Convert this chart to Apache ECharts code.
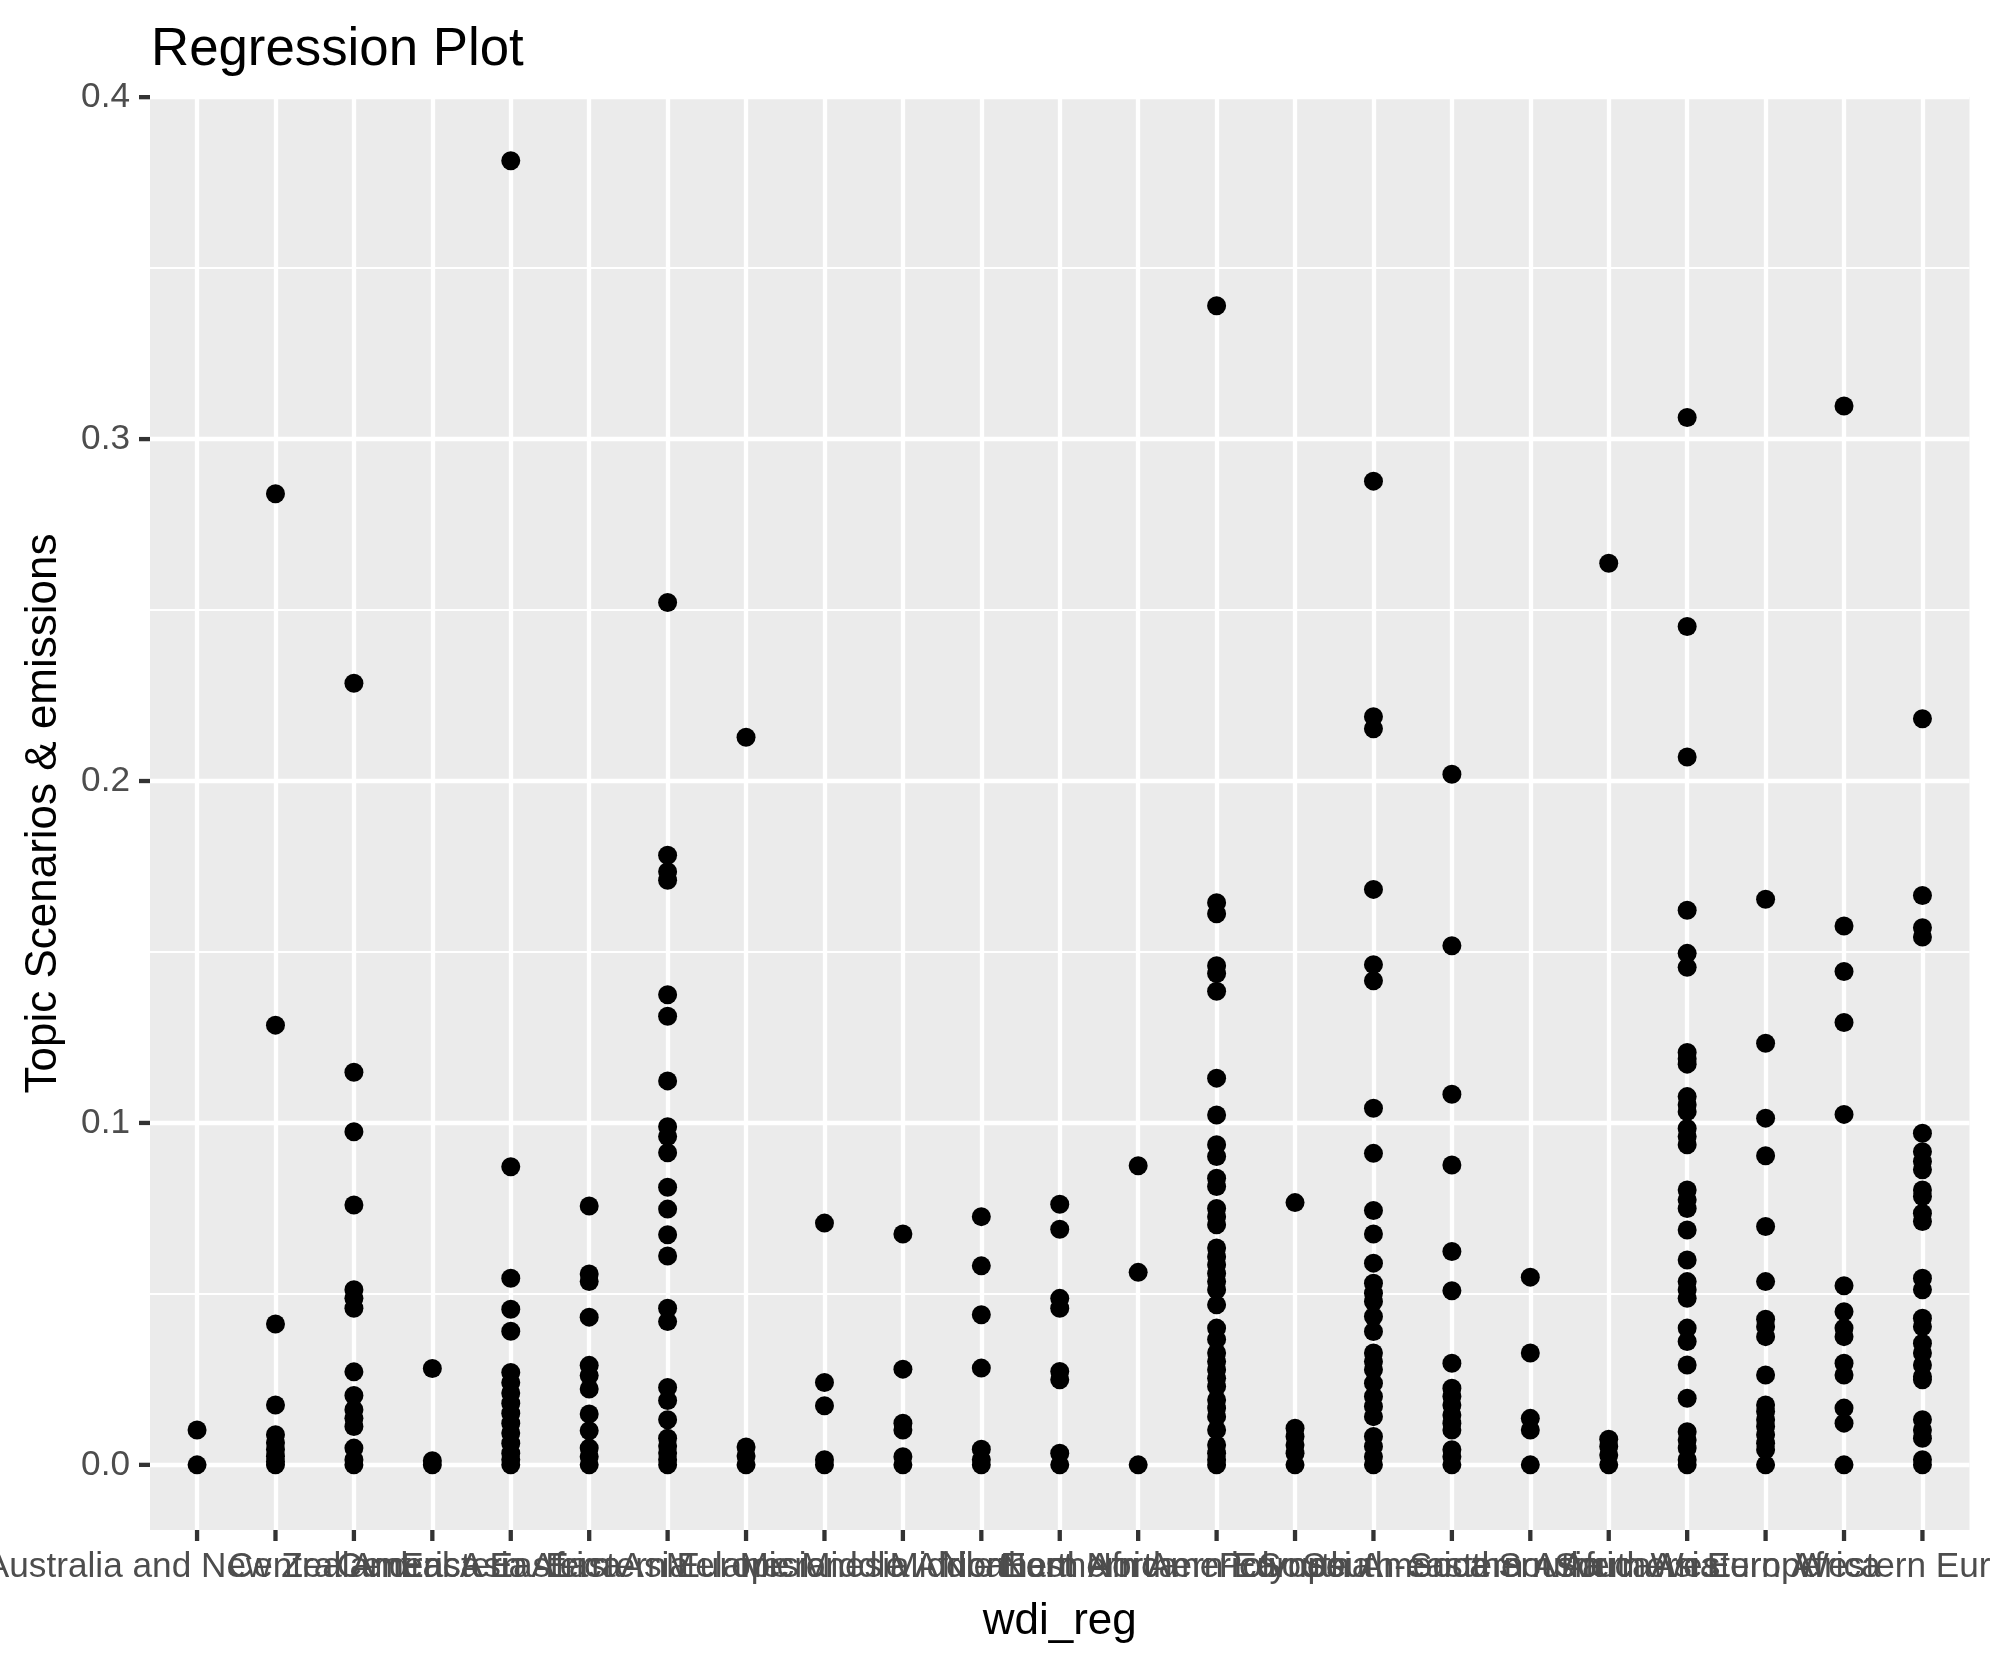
<!DOCTYPE html>
<html><head><meta charset="utf-8">
<script src="https://cdn.jsdelivr.net/npm/echarts@6/dist/echarts.min.js"></script>
<style>html,body{margin:0;padding:0;background:#fff}#c{width:1990px;height:1665px}</style>
</head><body><div id="c"></div>
<script>
const categories = [
  'Australia and New Zealand', 'Caribbean', 'Central America', 'Central Asia',
  'Eastern Africa', 'Eastern Asia', 'Eastern Europe', 'Melanesia', 'Micronesia',
  'Middle Africa', 'Middle East', 'Northern Africa', 'Northern America', 'Northern Europe',
  'Polynesia', 'South America', 'South-eastern Asia', 'Southern Africa', 'Southern Asia',
  'Southern Europe', 'Western Africa', 'Western Asia', 'Western Europe'
];
const valsAustraliaNZ = [0.0102, 0];
const valsCaribbean = [0.2840, 0.1286, 0.0412, 0.0175, 0.0088, 0.0065, 0.0045, 0.0025, 0.0010, 0];
const valsCentralAmerica = [0.2286, 0.1148, 0.0974, 0.0760, 0.0512, 0.0487, 0.0458, 0.0272, 0.0203, 0.0161, 0.0136, 0.0112, 0.0049, 0.0015, 0];
const valsCentralAsia = [0.0282, 0.0012, 0];
const valsEasternAfrica = [0.3814, 0.0872, 0.0546, 0.0455, 0.0391, 0.0270, 0.0240, 0.0210, 0.0180, 0.0151, 0.0122, 0.0093, 0.0063, 0.0034, 0.0015, 0];
const valsEasternAsia = [0.0757, 0.0558, 0.0536, 0.0432, 0.0291, 0.0261, 0.0222, 0.0149, 0.0100, 0.0049, 0.0024, 0];
const valsEasternEurope = [0.2522, 0.1783, 0.1735, 0.1710, 0.1375, 0.1312, 0.1123, 0.0989, 0.0960, 0.0913, 0.0812, 0.0748, 0.0673, 0.0611, 0.0458, 0.0419, 0.0226, 0.0188, 0.0132, 0.0078, 0.0055, 0.0035, 0.0015, 0];
const valsMelanesia = [0.2128, 0.0052, 0.0026, 0];
const valsMicronesia = [0.0707, 0.0241, 0.0173, 0.0015, 0];
const valsMiddleAfrica = [0.0675, 0.0280, 0.0122, 0.0102, 0.0024, 0];
const valsMiddleEast = [0.0726, 0.0582, 0.0439, 0.0283, 0.0046, 0.0015, 0];
const valsNorthernAfrica = [0.0762, 0.0689, 0.0487, 0.0458, 0.0273, 0.0249, 0.0034, 0];
const valsNorthernAmerica = [0.0875, 0.0563, 0];
const valsNorthernEurope = [0.3390, 0.1644, 0.1612, 0.1460, 0.1437, 0.1385, 0.1131, 0.1023, 0.0936, 0.0902, 0.0838, 0.0814, 0.0750, 0.0726, 0.0702, 0.0634, 0.0609, 0.0585, 0.0560, 0.0536, 0.0512, 0.0468, 0.0400, 0.0367, 0.0327, 0.0302, 0.0278, 0.0253, 0.0229, 0.0190, 0.0166, 0.0141, 0.0102, 0.0058, 0.0034, 0.0015, 0];
const valsPolynesia = [0.0767, 0.0107, 0.0083, 0.0058, 0.0034, 0];
const valsSouthAmerica = [0.2877, 0.2188, 0.2153, 0.1683, 0.1463, 0.1416, 0.1043, 0.0911, 0.0744, 0.0675, 0.0590, 0.0531, 0.0502, 0.0478, 0.0434, 0.0390, 0.0327, 0.0302, 0.0278, 0.0239, 0.0200, 0.0171, 0.0141, 0.0083, 0.0054, 0.0024, 0];
const valsSouthEasternAsia = [0.2020, 0.1518, 0.1084, 0.0877, 0.0624, 0.0509, 0.0297, 0.0224, 0.0200, 0.0175, 0.0146, 0.0122, 0.0102, 0.0044, 0.0024, 0];
const valsSouthernAfrica = [0.0549, 0.0327, 0.0136, 0.0102, 0];
const valsSouthernAsia = [0.2637, 0.0075, 0.0054, 0.0029, 0];
const valsSouthernEurope = [0.3063, 0.2452, 0.2070, 0.1622, 0.1496, 0.1455, 0.1206, 0.1188, 0.1172, 0.1077, 0.1053, 0.1033, 0.0984, 0.0960, 0.0936, 0.0804, 0.0775, 0.0750, 0.0687, 0.0599, 0.0536, 0.0512, 0.0487, 0.0400, 0.0361, 0.0292, 0.0195, 0.0097, 0.0073, 0.0049, 0.0015, 0];
const valsWesternAfrica = [0.1654, 0.1233, 0.1014, 0.0904, 0.0697, 0.0536, 0.0426, 0.0404, 0.0375, 0.0263, 0.0175, 0.0156, 0.0132, 0.0112, 0.0088, 0.0063, 0.0044, 0];
const valsWesternAsia = [0.3097, 0.1576, 0.1443, 0.1294, 0.1025, 0.0524, 0.0448, 0.0400, 0.0375, 0.0297, 0.0263, 0.0166, 0.0122, 0];
const valsWesternEurope = [0.2182, 0.1665, 0.1571, 0.1544, 0.0970, 0.0916, 0.0887, 0.0863, 0.0804, 0.0785, 0.0736, 0.0712, 0.0546, 0.0512, 0.0429, 0.0404, 0.0356, 0.0327, 0.0292, 0.0258, 0.0249, 0.0132, 0.0102, 0.0078, 0.0015, 0];

const yMajorTicks = [0, 0.1, 0.2, 0.3, 0.4];
const yMinorTicks = [0.05, 0.15, 0.25, 0.35];
const yLimits = [-0.01905, 0.40005];

const columns = [valsAustraliaNZ, valsCaribbean, valsCentralAmerica, valsCentralAsia,
  valsEasternAfrica, valsEasternAsia, valsEasternEurope, valsMelanesia, valsMicronesia,
  valsMiddleAfrica, valsMiddleEast, valsNorthernAfrica, valsNorthernAmerica, valsNorthernEurope,
  valsPolynesia, valsSouthAmerica, valsSouthEasternAsia, valsSouthernAfrica, valsSouthernAsia,
  valsSouthernEurope, valsWesternAfrica, valsWesternAsia, valsWesternEurope];

const points = [];
columns.forEach((vals, i) => vals.forEach(v => points.push([i, v])));
const catIdx = categories.map((_, i) => i);
const xLimits = [-0.6, categories.length - 1 + 0.6];

const FONT = '"Liberation Sans", Arial, Helvetica, sans-serif';
const MAJOR_W = 4.3, MINOR_W = 2.1;
const TICK_COLOR = '#333333';
const TICK_LEN = 11;

const gridLines = [].concat(
  yMinorTicks.map(v => ({ yAxis: v, lineStyle: { width: MINOR_W } })),
  yMajorTicks.map(v => ({ yAxis: v, lineStyle: { width: MAJOR_W } })),
  catIdx.map(i => ({ xAxis: i, lineStyle: { width: MAJOR_W } }))
);

// tick marks drawn through the axes' own scales
const tickData = [].concat(
  catIdx.map(i => [i, yLimits[0], 0]),
  yMajorTicks.map(v => [xLimits[0], v, 1])
);

const chart = echarts.init(document.getElementById('c'), null, { renderer: 'canvas' });
chart.setOption({
  animation: false,
  backgroundColor: '#ffffff',
  title: {
    text: 'Regression Plot', left: 146, top: 19,
    textStyle: { fontFamily: FONT, fontSize: 52.8, fontWeight: 'normal', color: '#000000' }
  },
  grid: { left: 150, right: 20.5, top: 97, bottom: 135, show: true, backgroundColor: '#EBEBEB', borderWidth: 0,
    containLabel: false, outerBoundsMode: 'none' },
  xAxis: {
    type: 'value', min: xLimits[0], max: xLimits[1],
    name: 'wdi_reg', nameLocation: 'middle', nameGap: 70,
    nameTextStyle: { fontFamily: FONT, fontSize: 44, color: '#000000' },
    axisLine: { show: false }, splitLine: { show: false },
    axisTick: { show: false },
    axisLabel: { customValues: catIdx, formatter: v => categories[Math.round(v)], margin: 20,
      showMinLabel: true, showMaxLabel: true,
      fontFamily: FONT, fontSize: 35.2, color: '#4D4D4D', hideOverlap: false }
  },
  yAxis: {
    type: 'value', min: yLimits[0], max: yLimits[1],
    name: 'Topic Scenarios & emissions', nameLocation: 'middle', nameRotate: 90, nameGap: 84,
    nameTextStyle: { fontFamily: FONT, fontSize: 44, color: '#000000' },
    axisLine: { show: false }, splitLine: { show: false },
    axisTick: { show: false },
    axisLabel: { customValues: yMajorTicks, formatter: v => v.toFixed(1), margin: 20,
      showMinLabel: true, showMaxLabel: true,
      fontFamily: FONT, fontSize: 35.2, color: '#4D4D4D' }
  },
  series: [
    {
      type: 'scatter', data: points, symbolSize: 0, z: 1, silent: true,
      markLine: { silent: true, symbol: ['none', 'none'], label: { show: false },
        lineStyle: { color: '#ffffff', type: 'solid' }, data: gridLines, animation: false }
    },
    {
      type: 'scatter', data: points, symbolSize: 19, z: 5,
      itemStyle: { color: '#000000', opacity: 1 }
    },
    {
      type: 'custom', data: tickData, clip: false, silent: true, z: 6,
      renderItem: (params, api) => {
        const p = api.coord([api.value(0), api.value(1)]);
        const vertical = api.value(2) === 0;
        return {
          type: 'line',
          shape: vertical
            ? { x1: p[0], y1: p[1], x2: p[0], y2: p[1] + TICK_LEN }
            : { x1: p[0] - TICK_LEN, y1: p[1], x2: p[0], y2: p[1] },
          style: { stroke: TICK_COLOR, lineWidth: MAJOR_W }
        };
      }
    }
  ]
});
</script></body></html>
